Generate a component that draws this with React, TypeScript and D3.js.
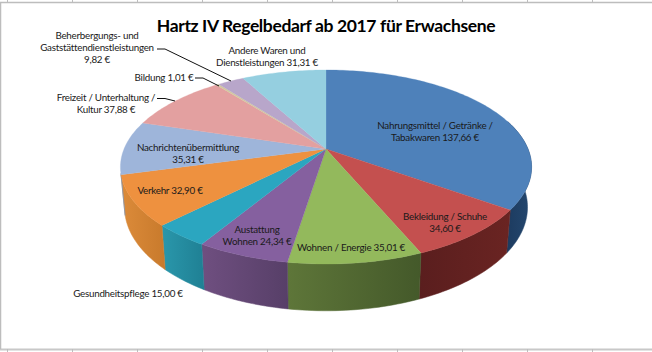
import React from "react";
import * as d3 from "d3";

const WIDTH = 652;
const HEIGHT = 352;

const titleText = "Hartz IV Regelbedarf ab 2017 für Erwachsene";
const values = [137.66, 34.6, 35.01, 24.34, 15.0, 32.9, 35.31, 37.88, 1.01, 9.82, 31.31];
const labelLines = [
  ["Nahrungsmittel / Getränke /", "Tabakwaren 137,66 €"],
  ["Bekleidung / Schuhe", "34,60 €"],
  ["Wohnen / Energie 35,01 €"],
  ["Austattung", "Wohnen 24,34 €"],
  ["Gesundheitspflege 15,00 €"],
  ["Verkehr 32,90 €"],
  ["Nachrichtenübermittlung", "35,31 €"],
  ["Freizeit / Unterhaltung /", "Kultur 37,88 €"],
  ["Bildung 1,01 €"],
  ["Beherbergungs- und", "Gaststättendienstleistungen", "9,82 €"],
  ["Andere Waren und", "Dienstleistungen 31,31 €"],
];
const topColors = ["#4e81ba", "#c4504f", "#93b95c", "#85609f", "#2ba6c0", "#ee913f", "#9eb5da", "#e3a0a0", "#d2c8a0", "#b8a6ca", "#95cfe0"];
const wallLight = ["#24476f", "#6a2422", "#5e7639", "#6f4f80", "#2a97ab", "#dc8b3a", "#7f93b0", "#b07f7f", "#a8a080", "#9080a0", "#78a8b8"];
const wallDark = ["#1c3a5e", "#5a1e1e", "#44592a", "#573f68", "#1f8094", "#c87a2c", "#7f93b0", "#b07f7f", "#a8a080", "#9080a0", "#78a8b8"];

// label anchor: centre x, baseline-middle y of the first line
const labelX = [435, 445, 351, 257, 128, 170, 188, 106, 164, 97, 267];
const labelY = [125, 215.5, 247, 229, 293, 189.5, 146.5, 97, 77, 35, 50];
const leaderPaths = [
  "M157,49L165,49L231,81",
  "M195,78L203,78L219,86",
  "M157,98.5L165,98.5L175,101",
];
const gridTicks = [7, 72, 137, 202, 267, 332, 397, 462, 527, 592];

// perspective projection of the pie disc to the screen
const CX = 326;
const K = 0.1856;
const top = { R: 202, y0: 149, b: 93.66 };
const bottom = { R: 198, y0: 188, b: 100 };
function project(a: number, p: { R: number; y0: number; b: number }): [number, number] {
  const u = Math.sin(a);
  const v = Math.cos(a);
  const den = 1 + K * v;
  return [CX + (p.R * u) / den, p.y0 - (p.b * v) / den];
}

const arcs = d3.pie<number>().sort(null).value((d) => d)(values);
const line = d3.line();

function rim(a0: number, a1: number, p: typeof top): [number, number][] {
  const n = Math.max(2, Math.ceil((a1 - a0) / 0.02));
  return d3.range(n + 1).map((i) => project(a0 + ((a1 - a0) * i) / n, p));
}

const frontMin = Math.PI * 0.4;
const frontMax = Math.PI * 1.42;

export default function App() {
  const walls = arcs
    .map((a, i) => ({ i, a0: Math.max(a.startAngle, frontMin), a1: Math.min(a.endAngle, frontMax) }))
    .filter((w) => w.a1 > w.a0);
  return (
    <svg
      width={WIDTH}
      height={HEIGHT}
      viewBox={`0 0 ${WIDTH} ${HEIGHT}`}
      style={{ position: "absolute", left: 0, top: 0, background: "#fff" }}
      fontFamily="Lato, sans-serif"
    >
      <defs>
        {walls.map((w) => {
          const xs = [...rim(w.a0, w.a1, top), ...rim(w.a0, w.a1, bottom)].map((d) => d[0]);
          return (
            <linearGradient
              key={w.i}
              id={`wall${w.i}`}
              gradientUnits="userSpaceOnUse"
              x1={d3.min(xs)}
              x2={d3.max(xs)}
              y1={0}
              y2={0}
            >
              <stop offset="0" stopColor={w.i < 2 ? wallDark[w.i] : wallLight[w.i]} />
              <stop offset="1" stopColor={w.i < 2 ? wallLight[w.i] : wallDark[w.i]} />
            </linearGradient>
          );
        })}
      </defs>

      <g stroke="#bdbdbd" fill="none">
        <path d={`M0,2.5H${WIDTH}`} strokeWidth={1.5} />
        <path d={`M0,349.5H${WIDTH}`} strokeWidth={2} stroke="#c8c8c8" />
        <path d="M0.5,2V349" strokeWidth={1.5} />
        {gridTicks.map((x) => (
          <g key={x}>
            <path d={`M${x + 0.5},0V2`} />
            <path d={`M${x + 0.5},349V352`} />
          </g>
        ))}
      </g>

      {walls.map((w) => (
        <path
          key={w.i}
          d={line([...rim(w.a0, w.a1, top), ...rim(w.a0, w.a1, bottom).reverse()]) + "Z"}
          fill={`url(#wall${w.i})`}
          stroke={`url(#wall${w.i})`}
          strokeWidth={0.5}
        />
      ))}

      {arcs.map((a, i) => (
        <path
          key={i}
          d={line([[CX, top.y0], ...rim(a.startAngle, a.endAngle, top)]) + "Z"}
          fill={topColors[i]}
          stroke={topColors[i]}
          strokeWidth={0.3}
        />
      ))}

      <g fill="none" stroke="#111" strokeWidth={1}>
        {leaderPaths.map((d) => (
          <path key={d} d={d} />
        ))}
      </g>

      <text x={326} y={25} textAnchor="middle" dominantBaseline="central" fontSize={17.5} letterSpacing={-0.37} fontWeight={700} fill="#000">
        {titleText}
      </text>

      <g fontSize={9.8} letterSpacing={-0.25} textAnchor="middle" fill="#1a1a1a">
        {labelLines.map((lines, i) =>
          lines.map((t, j) => (
            <text key={j} x={labelX[i]} y={labelY[i] + j * 12} dominantBaseline="central">
              {t}
            </text>
          ))
        )}
      </g>
    </svg>
  );
}
